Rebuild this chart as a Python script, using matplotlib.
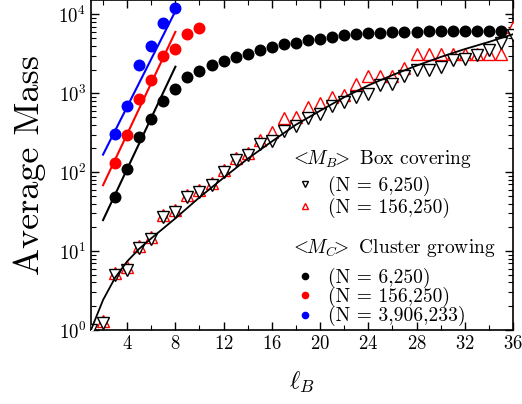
import matplotlib
matplotlib.use("Agg")
import matplotlib.pyplot as plt
from matplotlib.lines import Line2D
from matplotlib.ticker import MultipleLocator, LogLocator, NullFormatter

plt.rcParams['font.family'] = 'serif'
plt.rcParams['font.serif'] = ['cmr10']
plt.rcParams['mathtext.fontset'] = 'cm'
plt.rcParams['axes.unicode_minus'] = False
plt.rcParams['axes.formatter.use_mathtext'] = True

# box covering <M_B>
lb_box = list(range(1, 37))
mb_small = [1.0, 1.24, 5.0, 5.8, 11.0, 14.3, 27, 31, 48, 56, 69, 101, 142, 164,
            225, 252, 336, 382, 485, 540, 684, 776, 897, 991, 1263, 1327, 1641,
            1955, 1955, 2155, 2618, 2750, 3030, 3500, 4330, 5420]
mb_large = [1.0, 1.3, 5.3, 6.2, 11.7, 15.2, 28.5, 33, 51, 60, 74, 106, 150, 173,
            254, 323, 480, 501, 670, 750, 897, 943, 1327, 1650, 1650, 1650, 2100,
            3185, 3185, 3185, 3185, 3185, 3185, 3185, 3185, 6900]

# fitted curve through box covering data
fit_x = [1, 2, 3, 4, 5, 6, 8, 10, 12, 14, 16, 18, 20, 22, 24, 26, 28, 30, 32, 34, 36]
fit_y = [1, 2.4, 4.6, 7.4, 10.7, 14.5, 26, 48, 85, 148, 245, 400, 600, 890, 1260,
         1700, 2240, 2880, 3630, 4470, 5600]

# cluster growing <M_C>
lc_small = list(range(3, 36))
mc_small = [48.7, 111, 280, 468, 800, 1130, 1590, 1900, 2300, 2600, 2880, 3180,
            3500, 3860, 4170, 4380, 4680, 4920, 5160, 5420, 5600, 5750, 5850,
            5950, 6000, 6050, 6100, 6100, 6150, 6150, 6150, 6200, 6200]
lc_large = [3, 4, 5, 6, 7, 8, 9, 10]
mc_large = [131, 300, 840, 1460, 2940, 3680, 5700, 6770]
lc_huge = [3, 4, 5, 6, 7, 8]
mc_huge = [303, 684, 2310, 3970, 7770, 12160]

# straight (exponential) fits, end points
fit_black_x, fit_black_y = [2, 8], [24.7, 2170]
fit_red_x, fit_red_y = [2, 8], [68.4, 6000]
fit_blue_x, fit_blue_y = [2, 8.25], [167, 13100]

fig = plt.figure(figsize=(5.22, 4.04), dpi=100)
ax = fig.add_axes([0.1743, 0.1832, 0.8084, 0.8156])

ms_c = 8.6
ms_t = 8.4
ax.plot(lc_small, mc_small, 'o', color='black', ms=ms_c, mec='none', zorder=2)
ax.plot(lc_large, mc_large, 'o', color='red', ms=ms_c, mec='none', zorder=2)
ax.plot(lc_huge, mc_huge, 'o', color='blue', ms=ms_c, mec='none', zorder=2)
ax.plot(fit_black_x, fit_black_y, '-', color='black', lw=1.5, zorder=2.5)
ax.plot(fit_red_x, fit_red_y, '-', color='red', lw=1.5, zorder=2.5)
ax.plot(fit_blue_x, fit_blue_y, '-', color='blue', lw=1.5, zorder=2.5)

ax.plot(lb_box, mb_large, '^', ms=ms_t, mfc='white', mec='red', mew=1.0, zorder=3)
ax.plot(lb_box, mb_small, 'v', ms=ms_t, mfc='white', mec='black', mew=1.0, zorder=4)
ax.plot(fit_x, fit_y, '-', color='black', lw=1.3, zorder=5)

ax.set_yscale('log')
ax.set_xlim(1, 36)
ax.set_ylim(1, 1.5e4)
ax.xaxis.set_major_locator(MultipleLocator(4))
ax.xaxis.set_minor_locator(MultipleLocator(2))
ax.yaxis.set_major_locator(LogLocator(base=10, numticks=10))
ax.yaxis.set_minor_locator(LogLocator(base=10, subs=range(2, 10), numticks=20))
ax.yaxis.set_minor_formatter(NullFormatter())
ax.tick_params(which='both', direction='in', top=True, right=True, labelsize=13.5)
ax.tick_params(which='major', length=6, width=1)
ax.tick_params(which='minor', length=3.5, width=0.8)
for s in ax.spines.values():
    s.set_linewidth(1.2)

ax.set_ylabel('Average Mass', fontsize=26, labelpad=9)
ax.set_xlabel(r'$\ell_B$', fontsize=18, labelpad=12)

fs = 14
# legend headings
ax.text(0.4716, 0.504, r'$<\!\!M_B\!\!>$ Box covering', fontsize=fs,
        transform=ax.transAxes, va='baseline', ha='left')
ax.text(0.4716, 0.235, r'$<\!\!M_C\!\!>$ Cluster growing', fontsize=fs,
        transform=ax.transAxes, va='baseline', ha='left')

h_box = [Line2D([], [], ls='none', marker='v', ms=5, mfc='white', mec='black', mew=1.0),
         Line2D([], [], ls='none', marker='^', ms=5, mfc='white', mec='red', mew=1.0)]
leg1 = ax.legend(h_box, ['(N = 6,250)', '(N = 156,250)'],
                 fontsize=fs, frameon=False, loc='upper left',
                 bbox_to_anchor=(0.4716, 0.468), borderpad=0, borderaxespad=0,
                 labelspacing=0.08, handlelength=1.55, handletextpad=0.41)
ax.add_artist(leg1)

h_clu = [Line2D([], [], ls='none', marker='o', ms=5.5, color=c, mec='none')
         for c in ['black', 'red', 'blue']]
ax.legend(h_clu, ['(N = 6,250)', '(N = 156,250)', '(N = 3,906,233)'],
          fontsize=fs, frameon=False, loc='upper left',
          bbox_to_anchor=(0.4716, 0.188), borderpad=0, borderaxespad=0,
          labelspacing=-0.05, handlelength=1.55, handletextpad=0.41)

fig.savefig('out.png', dpi=100)
